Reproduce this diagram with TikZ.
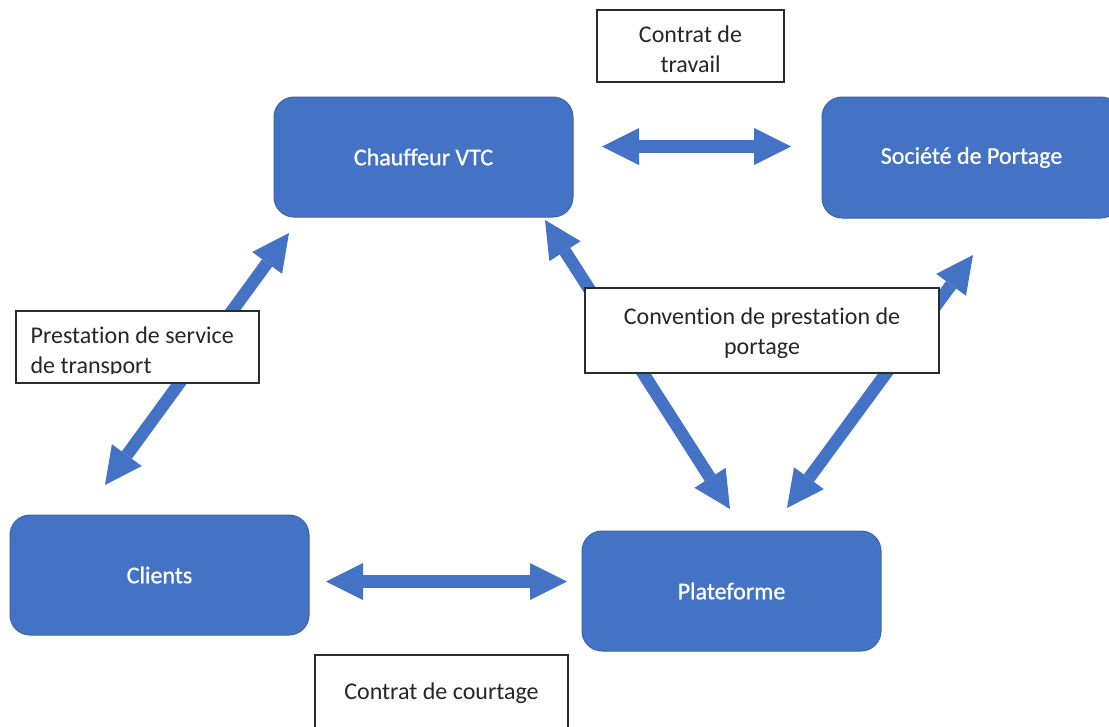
\documentclass[tikz,border=0pt]{standalone}
\usepackage{fontspec}
\setmainfont{Carlito}[Ligatures=NoCommon]
\newfontfamily\heavyfont{Carlito}[Ligatures=NoCommon, FakeBold=0.9]
\usetikzlibrary{arrows.meta}
\definecolor{boxblue}{HTML}{4472C4}
\definecolor{boxedge}{HTML}{3B64AE}
\definecolor{labeledge}{HTML}{2B2B2B}
\tikzset{
  bluebox/.style={draw=boxedge, line width=1pt, fill=boxblue, rounded corners=20pt,
    minimum width=299pt, minimum height=120pt, text=white, inner sep=0pt,
    font=\heavyfont\fontsize{24}{30}\selectfont},
  labelbox/.style={draw=labeledge, line width=1.2pt, fill=white, inner sep=0pt,
    align=center, font=\fontsize{24}{30}\selectfont},
  labeltext/.style={inner sep=0pt, align=left, text=black!85, font=\fontsize{24}{30}\selectfont},
  biarrow/.style={draw=boxblue, line width=12.5pt,
    {Triangle[length=37pt,width=37pt,line width=0pt]}-{Triangle[length=37pt,width=37pt,line width=0pt]}}
}
\begin{document}
\begin{tikzpicture}[x=1pt, y=-1pt]
\useasboundingbox (0,0) rectangle (1109,726);

% partners
\node[bluebox] (chauffeur) at (423.5,157) {Chauffeur VTC};
\node[bluebox, minimum height=121pt] (societe) at (971.5,157.5) {Société de Portage};
\node[bluebox] (clients) at (159.5,575) {Clients};
\node[bluebox] (plateforme) at (731.5,591) {Plateforme};

% arrow end points, just off the boxes
\coordinate (cs1) at (602,146.5);
\coordinate (cs2) at (791,146.5);
\coordinate (cp1) at (326,581.5);
\coordinate (cp2) at (567,581.5);
\coordinate (lc1) at (105,485);
\coordinate (lc2) at (289,233);
\coordinate (mp1) at (545,220);
\coordinate (mp2) at (730,509);
\coordinate (rp1) at (973,255);
\coordinate (rp2) at (787,508);

% contractual links
\draw[biarrow] (cs1) -- (cs2);
\draw[biarrow] (cp1) -- (cp2);
\draw[biarrow] (lc1) -- (lc2);
\draw[biarrow] (mp1) -- (mp2);
\draw[biarrow] (rp1) -- (rp2);

% contract labels
\node[labelbox, minimum width=187pt, minimum height=72pt] (travail) at (690.5,46) {};
\node[labeltext, align=center] (travailtext) at (690.5,49) {Contrat de\\travail};
\node[labelbox, minimum width=354pt, minimum height=85pt] (convention) at (762,330.5) {};
\node[labeltext, align=center] (conventiontext) at (762,333) {Convention de prestation de\\portage};
\node[labelbox, minimum width=243pt, minimum height=72pt] (prestation) at (137.5,347) {};
\begin{scope}
  % the text frame stops short of the box's lower edge
  \clip (prestation.north west) rectangle ([yshift=10pt]prestation.south east);
  \node[labeltext, anchor=west] (prestationtext) at ([xshift=15pt, yshift=-5pt]prestation.west) {Prestation de service\\de transport};
\end{scope}
\node[labelbox, minimum width=253pt, minimum height=110pt] (courtage) at (441.5,710) {};
\node[labeltext] (courtagetext) at (441.5,693) {Contrat de courtage};
\end{tikzpicture}
\end{document}
